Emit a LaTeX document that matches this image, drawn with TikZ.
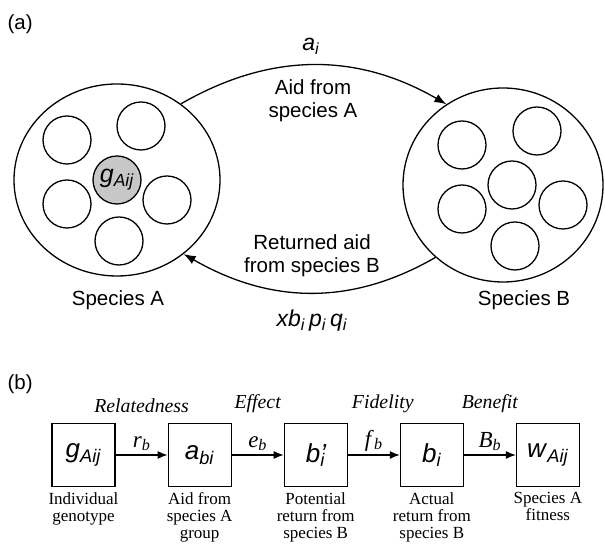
\documentclass[tikz,border=0pt]{standalone}
\usepackage{fontspec}
\setmainfont{Liberation Serif}
\setsansfont{Liberation Sans}
\usetikzlibrary{arrows.meta,positioning,shapes.geometric}

% sans italic variable with a subscript
\newcommand{\svar}[2]{\textit{#1}\textsubscript{\textit{#2}}}

\tikzset{
  pop/.style={draw,ellipse,line width=1.3pt,inner sep=0pt},
  indiv/.style={draw,circle,line width=1.3pt,minimum size=48pt,inner sep=0pt},
  flow/.style={-{Latex[length=12pt,width=9pt]},line width=1.3pt},
  label a/.style={font=\sffamily\fontsize{20.5}{23}\selectfont,align=center},
  varbox/.style={draw,line width=1.1pt,minimum size=63pt,inner sep=0pt,
                 font=\sffamily\fontsize{26}{28}\selectfont},
  link/.style={-{Latex[length=10pt,width=8pt]},line width=1.1pt},
  coef/.style={above,font=\fontsize{23}{25}\selectfont},
  factor/.style={above=38pt,font=\itshape\fontsize{19.8}{22}\selectfont},
  caption/.style={font=\fontsize{17}{17}\selectfont,align=center,inner sep=1pt}
}

\begin{document}
\begin{tikzpicture}[x=1pt,y=1pt]
  \useasboundingbox (0,0) rectangle (605,545);

  % ---- panel (a) ----
  \node[label a,anchor=west] (tagA) at (4,521) {(a)};

  % Species A population
  \node[pop,minimum width=206pt,minimum height=192pt] (spA) at (117,365) {};
  \node[indiv] (a1) at (67,405) {};
  \node[indiv] (a2) at (141,419) {};
  \node[indiv,fill=black!22,font=\sffamily\fontsize{25}{27}\selectfont] (a3) at (117,365) {\svar{g}{Aij}};
  \node[indiv] (a4) at (67,341) {};
  \node[indiv] (a5) at (167,345) {};
  \node[indiv] (a6) at (119,304) {};
  \node[label a] (labA) at (118,245) {Species A};

  % Species B population
  \node[pop,minimum width=200pt,minimum height=194pt] (spB) at (503,360) {};
  \node[indiv] (b1) at (462,400) {};
  \node[indiv] (b2) at (537,414) {};
  \node[indiv] (b3) at (512,360) {};
  \node[indiv] (b4) at (462,336) {};
  \node[indiv] (b5) at (563,340) {};
  \node[indiv] (b6) at (515,299) {};
  \node[label a] (labB) at (524,245) {Species B};

  % aid and returned aid
  \draw[flow] (spA.50) to[out=30,in=150] (spB.125);
  \draw[flow] (spB.227) to[out=210,in=-30] (spA.-48);
  \node[font=\sffamily\fontsize{23}{25}\selectfont] (ai) at (311,499) {\svar{a}{i}};
  \node[label a] (aid) at (313,444) {Aid from\\species A};
  \node[label a] (ret) at (312,289) {Returned aid\\from species B};
  \node[font=\sffamily\fontsize{23}{25}\selectfont] (xb) at (312,224)
       {\svar{xb}{i}\,\svar{p}{i}\,\svar{q}{i}};

  % ---- panel (b) ----
  \node[label a,anchor=west] (tagB) at (4,161) {(b)};

  \node[varbox] (g) at (83.5,90) {\svar{g}{Aij}};
  \node[varbox,right=52pt of g] (abi) {\svar{a}{bi}};
  \node[varbox,right=52pt of abi] (bp) {\textit{b}\rlap{\textit{'}}\textsubscript{\textit{i}}};
  \node[varbox,right=52pt of bp] (bi) {\svar{b}{i}};
  \node[varbox,right=52pt of bi] (w) {\svar{w}{Aij}};

  \draw[link] (g) -- node[coef] {\textit{r}\textsubscript{\textit{b}}}
                     node[factor] {Relatedness} (abi);
  \draw[link] (abi) -- node[coef] {\textit{e}\textsubscript{\textit{b}}}
                     node[factor] {Effect} (bp);
  \draw[link] (bp) -- node[coef] {\textit{f}\textsubscript{\textit{b}}}
                     node[factor,xshift=9pt] {Fidelity} (bi);
  \draw[link] (bi) -- node[coef] {\textit{B}\textsubscript{\textit{b}}}
                     node[factor] {Benefit} (w);

  \node[caption,below=4pt of g] (cg) {Individual\\genotype};
  \node[caption,below=4pt of abi] (cabi) {Aid from\\species A\\group};
  \node[caption,below=4pt of bp] (cbp) {Potential\\return from\\species B};
  \node[caption,below=4pt of bi] (cbi) {Actual\\return from\\species B};
  \node[caption,below=4pt of w] (cw) {Species A\\fitness};
\end{tikzpicture}
\end{document}
